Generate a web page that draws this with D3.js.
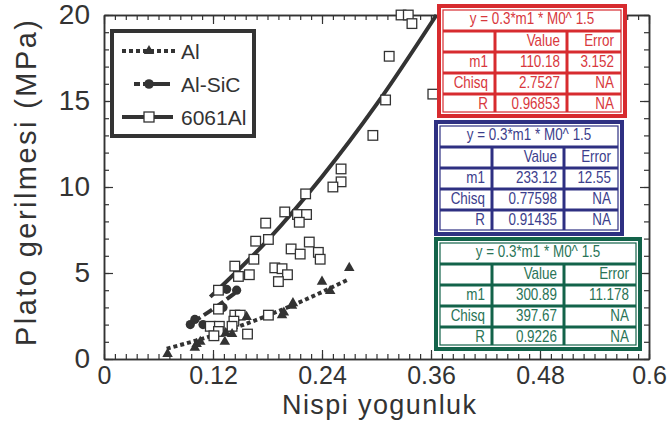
<!DOCTYPE html>
<html lang="tr">
<head>
<meta charset="utf-8">
<title>Plato gerilmesi</title>
<script src="https://cdn.jsdelivr.net/npm/d3@7"></script>
<style>
  body { margin: 0; background: #fff; }
  text { font-family: "Liberation Sans", Arial, Helvetica, sans-serif; }
</style>
</head>
<body>
<svg id="chart" width="670" height="425"></svg>
<script>
// --- data ---
var alX  = [0.070, 0.100, 0.102, 0.106, 0.133, 0.134, 0.141, 0.157, 0.196, 0.198, 0.207, 0.208, 0.240, 0.249, 0.270];
var alY  = [0.30, 0.65, 0.87, 1.00, 1.00, 1.50, 1.45, 2.45, 2.55, 2.70, 3.10, 3.25, 4.50, 3.95, 5.30];

var sicX = [0.095, 0.100, 0.109, 0.131, 0.135, 0.146];
var sicY = [2.00, 2.30, 2.00, 3.00, 4.05, 4.00];

var a6061X = [0.327, 0.335, 0.339, 0.314, 0.362, 0.310, 0.296, 0.261, 0.261, 0.252, 0.222, 0.199, 0.213, 0.223,
              0.215, 0.178, 0.167, 0.181, 0.165, 0.144, 0.148, 0.160, 0.126, 0.126, 0.206, 0.216, 0.226, 0.236,
              0.238, 0.188, 0.196, 0.202, 0.192, 0.144, 0.150, 0.143, 0.117, 0.127, 0.141, 0.126, 0.121, 0.158, 0.181];
var a6061Y = [20.0, 20.0, 19.5, 17.6, 15.4, 15.06, 13.0, 11.05, 10.3, 10.0, 9.6, 8.55, 8.4, 8.4,
              7.95, 7.9, 6.85, 6.95, 5.8, 5.4, 4.8, 4.9, 4.0, 2.9, 6.4, 6.1, 6.8, 6.2,
              5.8, 5.3, 5.25, 4.9, 4.5, 2.55, 2.55, 2.2, 1.9, 1.9, 1.9, 1.6, 1.35, 1.45, 2.55];

// fitted curves
var fitAlX   = [0.069, 0.12, 0.17, 0.22, 0.268];
var fitAlY   = [0.60, 1.37, 2.32, 3.41, 4.60];
var fitSicX  = [0.097, 0.12, 0.146];
var fitSicY  = [2.11, 2.91, 3.90];
var fit6061X = [0.117, 0.18, 0.24, 0.30, 0.366];
var fit6061Y = [3.61, 6.90, 10.6, 14.8, 20.0];

var xTicks = [0, 0.12, 0.24, 0.36, 0.48, 0.6];
var yTicks = [0, 5, 10, 15, 20];

var legendNames = ["Al", "Al-SiC", "6061Al"];

// fit tables
var fitTitle = "y = 0.3*m1 * M0^ 1.5";
var fitM1    = ["110.18", "233.12", "300.89"];
var fitErr   = ["3.152", "12.55", "11.178"];
var fitChisq = ["2.7527", "0.77598", "397.67"];
var fitR     = ["0.96853", "0.91435", "0.9226"];

var ink = "#333";
var svg = d3.select("#chart");

var x = d3.scaleLinear().domain([0, 0.6]).range([104, 649]);
var y = d3.scaleLinear().domain([0, 20]).range([359, 15]);

function zip(a, b) { return a.map(function(v, i) { return [v, b[i]]; }); }

// --- axes (ticks inward on all four sides) ---
var xMinor = d3.range(0, 0.6001, 0.012);
var yMinor = d3.range(0, 20.001, 1);

function styleAxis(g) {
  g.selectAll("path").attr("stroke", ink).attr("stroke-width", 1.5);
  g.selectAll("line").attr("stroke", ink).attr("stroke-width", 1.2);
}

svg.append("g").attr("transform", "translate(0,359)")
  .call(d3.axisBottom(x).tickValues(xMinor).tickSizeInner(-5).tickSizeOuter(0).tickFormat(""))
  .call(styleAxis);
svg.append("g").attr("transform", "translate(0,359)")
  .call(d3.axisBottom(x).tickValues(xTicks).tickSizeInner(-9).tickSizeOuter(0).tickPadding(7)
        .tickFormat(function(d) { return String(+d.toFixed(2)); }))
  .call(styleAxis)
  .call(function(g) {
    g.selectAll("text").attr("fill", ink).style("font-size", "25px");
  });

svg.append("g").attr("transform", "translate(0,15)")
  .call(d3.axisTop(x).tickValues(xMinor).tickSizeInner(-5).tickSizeOuter(0).tickFormat(""))
  .call(styleAxis);
svg.append("g").attr("transform", "translate(0,15)")
  .call(d3.axisTop(x).tickValues(xTicks).tickSizeInner(-9).tickSizeOuter(0).tickFormat(""))
  .call(styleAxis);

svg.append("g").attr("transform", "translate(104,0)")
  .call(d3.axisLeft(y).tickValues(yMinor).tickSizeInner(-5).tickSizeOuter(0).tickFormat(""))
  .call(styleAxis);
svg.append("g").attr("transform", "translate(104,0)")
  .call(d3.axisLeft(y).tickValues(yTicks).tickSizeInner(-9).tickSizeOuter(0).tickPadding(14))
  .call(styleAxis)
  .call(function(g) {
    g.selectAll("text").attr("fill", ink).style("font-size", "28px");
  });

svg.append("g").attr("transform", "translate(649,0)")
  .call(d3.axisRight(y).tickValues(yMinor).tickSizeInner(-5).tickSizeOuter(0).tickFormat(""))
  .call(styleAxis);
svg.append("g").attr("transform", "translate(649,0)")
  .call(d3.axisRight(y).tickValues(yTicks).tickSizeInner(-9).tickSizeOuter(0).tickFormat(""))
  .call(styleAxis);

// axis titles
svg.append("text")
  .attr("x", 379).attr("y", 414)
  .attr("text-anchor", "middle")
  .attr("fill", ink)
  .style("font-size", "27px")
  .attr("textLength", 194)
  .text("Nispi yogunluk");

svg.append("text")
  .attr("transform", "translate(36,183) rotate(-90)")
  .attr("text-anchor", "middle")
  .attr("fill", ink)
  .style("font-size", "29px")
  .attr("textLength", 326)
  .text("Plato gerilmesi (MPa)");

// --- fit lines ---
var line = d3.line()
  .x(function(d) { return x(d[0]); })
  .y(function(d) { return y(d[1]); })
  .curve(d3.curveMonotoneX);

svg.append("path").datum(zip(fitSicX, fitSicY))
  .attr("d", line).attr("fill", "none").attr("stroke", ink)
  .attr("stroke-width", 4).attr("stroke-dasharray", "10,4");

svg.append("path").datum(zip(fit6061X, fit6061Y))
  .attr("d", line).attr("fill", "none").attr("stroke", ink)
  .attr("stroke-width", 4);

svg.append("path").datum(zip(fitAlX, fitAlY))
  .attr("d", line).attr("fill", "none").attr("stroke", ink)
  .attr("stroke-width", 4).attr("stroke-dasharray", "4,3");

// --- markers ---
var tri = d3.symbol().type(d3.symbolTriangle).size(48);

svg.append("g").selectAll("circle")
  .data(zip(sicX, sicY)).enter().append("circle")
  .attr("cx", function(d) { return x(d[0]); })
  .attr("cy", function(d) { return y(d[1]); })
  .attr("r", 4.6)
  .attr("fill", ink);

svg.append("g").selectAll("rect")
  .data(zip(a6061X, a6061Y)).enter().append("rect")
  .attr("x", function(d) { return x(d[0]) - 4.8; })
  .attr("y", function(d) { return y(d[1]) - 4.8; })
  .attr("width", 9.6).attr("height", 9.6)
  .attr("fill", "#fff").attr("stroke", ink).attr("stroke-width", 1.3);

svg.append("g").selectAll("path")
  .data(zip(alX, alY)).enter().append("path")
  .attr("transform", function(d) { return "translate(" + x(d[0]) + "," + y(d[1]) + ")"; })
  .attr("d", tri)
  .attr("fill", ink);

// --- legend ---
var legend = svg.append("g");
legend.append("rect")
  .attr("x", 112).attr("y", 31).attr("width", 142).attr("height", 105)
  .attr("fill", "#fff").attr("stroke", ink).attr("stroke-width", 4);

var legY = [51, 84, 117];
legend.append("line").attr("x1", 122).attr("x2", 175).attr("y1", legY[0]).attr("y2", legY[0])
  .attr("stroke", ink).attr("stroke-width", 4).attr("stroke-dasharray", "4,3");
legend.append("path").attr("transform", "translate(149," + legY[0] + ")").attr("d", tri).attr("fill", ink);

legend.append("line").attr("x1", 134).attr("x2", 173).attr("y1", legY[1]).attr("y2", legY[1])
  .attr("stroke", ink).attr("stroke-width", 4).attr("stroke-dasharray", "6,3,27,3");
legend.append("circle").attr("cx", 149).attr("cy", legY[1]).attr("r", 4.8).attr("fill", ink);

legend.append("line").attr("x1", 122).attr("x2", 173).attr("y1", legY[2]).attr("y2", legY[2])
  .attr("stroke", ink).attr("stroke-width", 4);
legend.append("rect").attr("x", 144).attr("y", legY[2] - 5).attr("width", 10).attr("height", 10)
  .attr("fill", "#fff").attr("stroke", ink).attr("stroke-width", 1.3);

legend.selectAll("text.leg").data(legendNames).enter().append("text")
  .attr("class", "leg")
  .attr("x", 181)
  .attr("y", function(d, i) { return legY[i] + 7.5; })
  .attr("fill", ink)
  .style("font-size", "21px")
  .text(function(d) { return d; });

// --- fit tables ---
var tables = [
  { x: 437, y: 4,   w: 190, h: 114, line: "#d72b2f", txt: "#d8383d" },
  { x: 434, y: 120, w: 190, h: 116, line: "#2e3082", txt: "#3c3e8c" },
  { x: 434, y: 237, w: 208, h: 114, line: "#13634a", txt: "#2a7457" }
];

function cellText(g, t, tx, ty, s, anchor) {
  g.append("text")
    .attr("transform", "translate(" + tx + "," + ty + ") scale(0.84,1)")
    .attr("text-anchor", anchor)
    .attr("fill", t.txt)
    .style("font-size", "16px")
    .text(s);
}

tables.forEach(function(t, i) {
  var g = svg.append("g").attr("transform", "translate(" + t.x + "," + t.y + ")");
  g.append("rect").attr("x", 2).attr("y", 2).attr("width", t.w - 4).attr("height", t.h - 4)
    .attr("fill", "#fff").attr("stroke", t.line).attr("stroke-width", 4);
  g.append("rect").attr("x", 6).attr("y", 6).attr("width", t.w - 12).attr("height", t.h - 12)
    .attr("fill", "none").attr("stroke", t.line).attr("stroke-width", 1.2);
  [27, 48, 69, 90].forEach(function(yy) {
    g.append("line").attr("x1", 6).attr("x2", t.w - 6).attr("y1", yy).attr("y2", yy)
      .attr("stroke", t.line).attr("stroke-width", 3);
  });
  [58, 130].forEach(function(xx) {
    g.append("line").attr("x1", xx).attr("x2", xx).attr("y1", 27).attr("y2", t.h - 6)
      .attr("stroke", t.line).attr("stroke-width", 3);
  });
  var rows = [
    ["", "Value", "Error"],
    ["m1", fitM1[i], fitErr[i]],
    ["Chisq", fitChisq[i], "NA"],
    ["R", fitR[i], "NA"]
  ];
  cellText(g, t, t.w / 2, 20, fitTitle, "middle");
  rows.forEach(function(r, j) {
    var ty = 42 + j * 21;
    cellText(g, t, 51, ty, r[0], "end");
    cellText(g, t, 123, ty, r[1], "end");
    cellText(g, t, t.w - 13, ty, r[2], "end");
  });
});
</script>
</body>
</html>
